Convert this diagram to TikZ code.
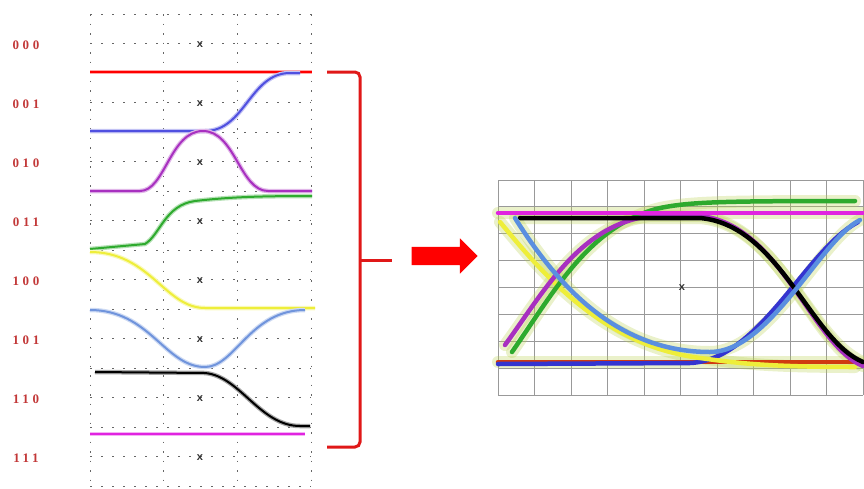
\documentclass[tikz,border=0pt]{standalone}
\usepackage{fontspec}
\usetikzlibrary{shapes.arrows}
\newfontfamily\bitfont[LetterSpace=28]{Liberation Serif}
\newfontfamily\markfont{Liberation Mono}
\definecolor{bitred}{HTML}{C23838}
\definecolor{bracered}{HTML}{E01818}
\definecolor{sigblue}{HTML}{5050E0}
\definecolor{sigpurple}{HTML}{A830C0}
\definecolor{siggreen}{HTML}{2EAA2E}
\definecolor{sigyellow}{HTML}{EEEE3A}
\definecolor{sigsky}{HTML}{7094DC}
\definecolor{sigmag}{HTML}{E024E0}
\definecolor{eyeblue}{HTML}{5A8FE0}
\definecolor{eyedark}{HTML}{3434D0}
\definecolor{eyered}{HTML}{D03A10}
\definecolor{noise}{HTML}{B8D050}

\begin{document}
\begin{tikzpicture}[x=1pt, y=-1pt,
    lab/.style={font=\bitfont\bfseries\fontsize{13}{13}\selectfont, text=bitred, inner sep=0pt},
    xmark/.style={font=\markfont\bfseries\fontsize{11}{11}\selectfont, text=black!80, inner sep=0pt},
    dotgrid/.style={black!60, line width=0.6pt, dash pattern=on 2pt off 9pt},
    trace/.style={draw=#1, line width=2pt, preaction={draw=#1!35, line width=4.5pt}},
    eyegrid/.style={black!40, line width=0.8pt},
    eye/.style={draw=#1, line width=4.5pt, line cap=round},
    halo/.style={draw=noise, line width=12pt, opacity=0.3, line cap=round}]

	\useasboundingbox (0,0) rectangle (864,488);

	% 左侧示波器网格
	\foreach \x in {90,163.7,237.3,311}
		\draw[dotgrid, dash pattern=on 1.5pt off 8pt] (\x,14) -- (\x,486);
	\foreach \k in {0,...,16}
		\draw[dotgrid] (90,14+29.5*\k) -- (311,14+29.5*\k);

	% 比特序列标签与中心标记
	\foreach \bits [count=\i from 0] in {000,001,010,011,100,101,110,111} {
		\node[lab] (b\bits) at (26,45+59*\i) {\bits};
		\node[xmark] (m\bits) at (200,45+59*\i) {x};
	}

	% 八种比特序列的波形
	\draw[trace=red] (90,72) -- (312,72);
	\draw[trace=sigblue] (90,131) -- (205,131) .. controls (245,131) and (250,73) .. (290,73) -- (300,73);
	\draw[trace=sigpurple] (90,191) -- (140,191) .. controls (165,191) and (170,131) .. (203,131)
		.. controls (235,131) and (240,191) .. (268,191) -- (312,191);
	\draw[trace=siggreen] (90,249) -- (145,244) .. controls (160,235) and (165,205) .. (195,201)
		.. controls (230,197) and (260,196) .. (312,196);
	\draw[trace=sigyellow] (90,252) .. controls (150,252) and (165,308) .. (205,308) -- (315,308);
	\draw[trace=sigsky] (90,310) .. controls (150,310) and (165,367) .. (205,367)
		.. controls (235,367) and (250,310) .. (305,310);
	\draw[trace=black] (95,372) -- (205,373) .. controls (240,376) and (260,426) .. (300,426) -- (310,426);
	\draw[trace=sigmag] (90,434) -- (305,434);

	% 花括号与箭头
	\draw[bracered, line width=3pt, rounded corners=5pt] (327,72) -- (360,72) -- (360,447) -- (327,447);
	\draw[bracered, line width=3pt] (360,260) coordinate (tip) -- (392,260);
	\node[single arrow, fill=red, draw=none, inner xsep=0pt, inner ysep=9pt, minimum height=66pt,
		single arrow head extend=8.5pt] (conv) at (440,256) {};

	% 右侧眼图网格
	\foreach \i in {0,...,10}
		\draw[eyegrid] (498+36.5*\i,180) -- (498+36.5*\i,395);
	\foreach \j in {0,...,8}
		\draw[eyegrid] (498,180+26.875*\j) -- (863,180+26.875*\j);
	\node[xmark] (eyex) at (682,288) {x};

	% 眼图轨迹
	\def\eTop{(498,213) -- (863,213)}
	\def\eBot{(498,362) -- (860,362)}
	\def\eYel{(500,222) .. controls (540,270) and (600,345) .. (700,358) .. controls (730,362) and (760,367) .. (855,367)}
	\def\eSky{(515,218) .. controls (560,290) and (620,352) .. (710,352) .. controls (770,352) and (820,240) .. (860,220)}
	\def\eBlk{(520,218) -- (700,218) .. controls (780,225) and (810,340) .. (863,362)}
	\def\eMag{(505,345) .. controls (545,290) and (580,225) .. (650,216) -- (700,216) .. controls (780,224) and (812,345) .. (863,366)}
	\def\eGrn{(512,352) .. controls (555,290) and (590,225) .. (660,208) .. controls (690,202) and (720,201) .. (855,201)}
	\def\eDrk{(498,364) -- (690,363) .. controls (760,360) and (805,250) .. (858,222)}
	\foreach \p in {\eTop,\eBot,\eYel,\eSky,\eBlk,\eMag,\eGrn}
		\draw[halo] \p;
	\draw[eye=eyered] \eBot;
	\draw[eye=eyedark] \eDrk;
	\draw[eye=sigyellow] \eYel;
	\draw[eye=siggreen] \eGrn;
	\draw[eye=sigpurple] \eMag;
	\draw[eye=black] \eBlk;
	\draw[eye=sigmag] \eTop;
	\draw[eye=eyeblue] \eSky;
\end{tikzpicture}
\end{document}
